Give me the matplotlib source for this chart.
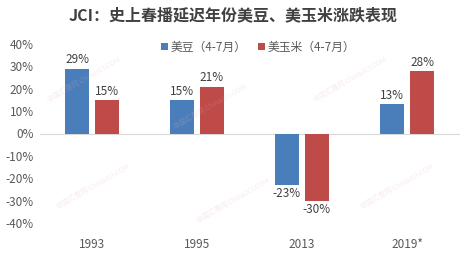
import numpy as np
import matplotlib
matplotlib.use('Agg')
import matplotlib.pyplot as plt
from matplotlib.ticker import FuncFormatter

plt.rcParams['font.family'] = ['Noto Sans CJK SC', 'DejaVu Sans']

# Data
years = ['1993', '1995', '2013', '2019*']
soy = [29, 15, -23, 13]
corn = [15, 21, -30, 28]
series_names = ['美豆（4-7月）', '美玉米（4-7月）']

blue = '#4a7ebb'
red = '#be4b48'
text_color = '#595959'

fig = plt.figure(figsize=(4.67, 2.67), dpi=100)
ax = fig.add_axes([39.5 / 467, 1 - 223 / 267, 420 / 467, 179 / 267])

x = np.arange(len(years))
w = 0.23
off = 0.143
b1 = ax.bar(x - off, soy, w, color=blue, label=series_names[0])
b2 = ax.bar(x + off, corn, w, color=red, label=series_names[1])

# value labels
for bars, vals in ((b1, soy), (b2, corn)):
    for rect, v in zip(bars, vals):
        cx = rect.get_x() + rect.get_width() / 2
        if v >= 0:
            ax.text(cx, v + 1.0, f'{v}%', ha='center', va='bottom',
                    fontsize=8.5, color='#404040')
        else:
            ax.text(cx, v - 1.0, f'{v}%', ha='center', va='top',
                    fontsize=8.5, color='#404040')

ax.set_xlim(-0.5, len(years) - 0.5)
ax.set_ylim(-40, 40)
ax.set_yticks(range(-40, 41, 10))
ax.yaxis.set_major_formatter(FuncFormatter(lambda v, p: f'{int(v)}%'))
ax.set_xticks(x)
ax.set_xticklabels(years)
ax.tick_params(axis='both', length=0, labelsize=8.5, labelcolor=text_color)
ax.tick_params(axis='x', pad=11)
ax.tick_params(axis='y', pad=4)

for s in ax.spines.values():
    s.set_visible(False)
ax.axhline(0, color='#d9d9d9', lw=0.8, zorder=0)

# faint watermark
for (wx, wy) in [(0.18, 0.7), (0.45, 0.6), (0.75, 0.7), (0.2, 0.3), (0.5, 0.25), (0.85, 0.3)]:
    fig.text(wx, wy, '中国汇易网 ChinaJCI.COM', fontsize=5, color='#e8b0b0',
             alpha=0.25, rotation=30, ha='center', va='center')

fig.text(0.5, 1 - 15 / 267, 'JCI：史上春播延迟年份美豆、美玉米涨跌表现',
         ha='center', va='center', fontsize=11.5, fontweight='bold', color='#404040')

leg = ax.legend(loc='upper center', bbox_to_anchor=(0.52, 1.045), ncol=2, frameon=False,
                fontsize=8.5, handlelength=0.6, handleheight=0.6, handletextpad=0.2,
                columnspacing=1.0, borderaxespad=0)
for t in leg.get_texts():
    t.set_color(text_color)

fig.savefig('out.png', dpi=100)
